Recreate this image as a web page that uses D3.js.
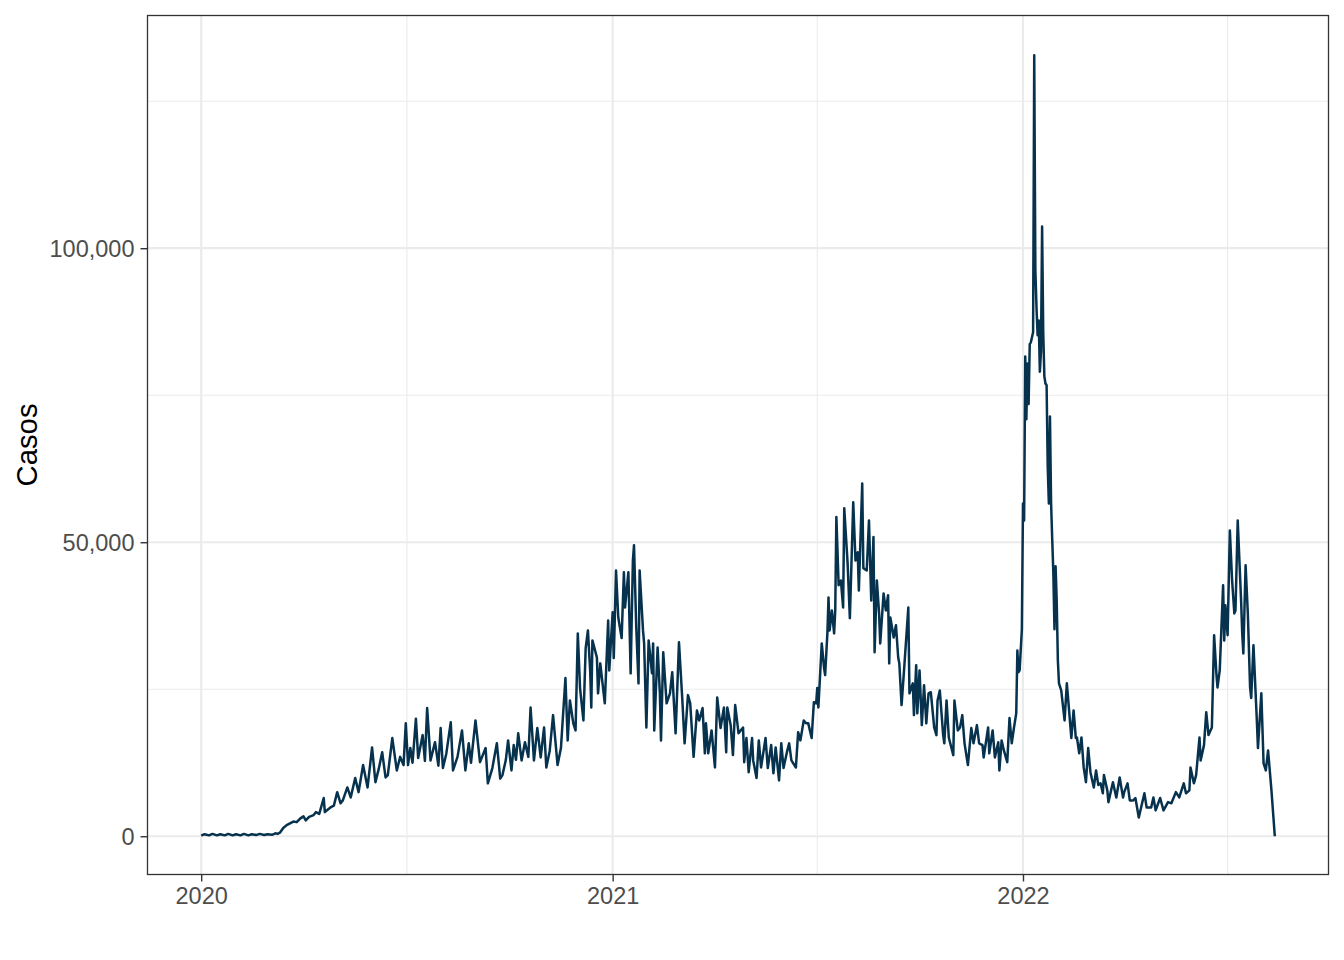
<!DOCTYPE html>
<html>
<head>
<meta charset="utf-8">
<script src="https://cdn.jsdelivr.net/npm/d3@7"></script>
<style>
  html, body { margin: 0; padding: 0; background: #ffffff; }
  svg { display: block; }
</style>
</head>
<body>
<svg id="chart" width="1344" height="960"></svg>
<script>
// ---------------- DATA ----------------
const startDate = "2020-01-01";
// [days since startDate, daily cases]
const dailyCases = [
[0,100],[3,350],[7,150],[10,400],[14,150],[17,350],[21,150],[24,400],[28,150],[31,350],[35,150],[38,400],[42,150],[45,350],[49,200],[52,400],[56,200],[59,350],[63,250],[66,500],[68,400],[70,600],[73,1400],[76,1900],[79,2200],[82,2500],[85,2400],[88,3000],[91,3400],[93,2700],[96,3300],[100,3600],[102,4100],[105,3800],[109,6500],[110,4100],[113,4600],[115,4900],[118,5200],[121,7500],[124,5600],[126,6100],[130,8300],[133,6600],[137,9900],[140,7500],[144,12100],[148,8300],[152,15100],[155,9200],[158,11500],[161,14300],[164,10000],[166,10400],[170,16700],[174,11200],[177,13500],[180,12100],[182,19200],[184,12100],[186,15000],[188,12500],[191,20000],[193,13300],[197,17200],[199,12800],[201,21800],[204,12900],[208,16000],[211,12000],[213,18400],[215,11600],[218,14000],[222,19400],[224,11200],[228,13500],[232,18000],[235,11200],[238,15800],[240,12500],[244,19700],[248,12600],[253,15000],[255,9000],[259,11600],[263,15800],[266,9800],[268,10400],[271,13000],[273,16300],[276,11200],[278,15500],[280,13000],[282,17500],[285,12900],[288,16000],[291,13500],[293,21900],[296,12900],[299,18400],[302,13400],[305,18500],[307,11700],[310,14500],[313,20600],[317,12100],[320,15000],[321,18000],[324,26900],[326,16300],[328,23100],[331,19200],[333,18000],[335,34500],[337,25200],[340,19700],[342,32000],[344,35000],[346,28200],[347,21900],[348,33300],[352,30400],[353,24300],[355,29400],[357,26000],[359,22600],[362,36700],[363,28200],[366,38100],[367,30300],[369,45200],[371,37200],[374,33700],[376,44900],[377,38900],[380,44900],[382,27700],[384,46900],[385,49500],[387,35500],[389,26000],[390,45200],[393,35000],[394,32800],[396,18500],[398,33300],[401,27700],[402,32800],[403,18000],[406,32100],[408,24300],[409,16300],[411,31300],[414,22600],[417,24300],[419,27900],[422,17500],[425,33000],[428,23100],[430,15800],[433,24000],[435,22600],[438,13500],[441,21400],[443,19700],[446,21800],[448,14100],[449,19200],[451,14100],[454,18000],[457,11700],[459,23600],[462,18400],[465,21900],[467,14300],[468,21900],[471,18900],[473,13800],[475,22300],[478,17500],[482,18500],[483,12600],[485,16700],[487,10900],[490,16700],[491,12900],[494,9900],[496,16300],[498,11700],[502,16700],[504,11600],[507,15500],[509,10700],[511,15100],[514,9500],[516,15800],[518,11600],[521,14300],[523,15800],[525,12900],[529,11700],[531,17700],[533,16300],[536,19700],[538,19200],[540,19200],[543,16700],[545,22800],[547,22600],[548,25200],[549,21900],[552,32800],[554,28700],[555,27400],[557,34500],[558,40600],[559,35000],[561,38400],[563,34500],[564,38400],[565,54300],[567,42700],[569,43500],[571,38900],[572,55800],[575,46400],[577,37100],[580,56800],[582,46900],[584,48300],[585,41800],[588,60000],[589,45600],[592,45200],[594,53700],[596,40100],[598,50900],[599,31300],[601,43500],[603,37900],[604,32800],[607,41300],[609,38400],[611,41000],[612,29400],[613,37200],[616,33800],[618,35900],[620,30400],[621,29400],[623,22300],[625,27700],[629,38900],[630,24300],[633,26000],[634,20600],[636,29100],[637,20900],[639,28200],[641,18900],[643,25700],[645,19200],[646,21900],[647,24300],[649,24500],[652,18500],[654,17200],[655,23100],[657,24800],[660,17200],[661,15800],[663,23100],[665,16800],[669,13800],[670,23100],[673,18000],[675,18500],[677,20600],[679,15800],[682,12100],[685,18400],[687,15800],[690,18900],[692,15800],[695,15500],[696,13400],[700,18500],[701,14100],[704,18000],[706,13400],[709,16000],[710,11200],[712,16300],[714,14600],[717,12600],[719,20100],[721,15800],[723,18500],[725,20900],[726,31600],[727,27900],[728,28200],[730,35200],[731,56600],[732,53700],[733,81600],[734,70900],[735,80400],[736,73500],[737,83700],[738,84000],[740,85700],[741,132800],[742,96300],[743,90000],[744,85200],[745,87700],[746,79000],[747,82500],[748,103700],[749,85700],[750,78200],[751,77000],[752,76700],[753,62800],[754,56600],[755,71400],[756,56600],[757,50500],[758,44700],[759,35200],[760,45900],[761,40000],[762,30000],[763,26000],[765,24800],[768,19700],[770,26000],[772,21400],[774,16700],[776,21400],[778,16700],[779,16800],[781,14100],[783,16800],[785,11700],[787,9200],[789,15000],[791,10900],[794,8300],[796,11200],[798,8700],[800,9000],[802,7300],[803,10400],[806,7800],[807,5800],[811,9200],[814,6600],[817,10000],[820,6600],[821,7500],[824,9000],[826,6100],[829,6100],[831,6500],[834,3200],[839,7300],[841,4900],[845,4900],[847,6600],[849,4400],[853,6500],[856,4400],[860,5800],[863,5600],[867,7500],[870,6600],[874,9000],[876,7300],[879,7800],[880,11700],[883,9000],[885,10400],[888,16800],[889,12900],[892,15500],[894,21100],[896,17200],[899,18500],[901,34200],[903,27700],[904,25300],[906,28200],[909,42700],[910,33300],[911,39300],[913,34200],[915,52000],[917,43500],[919,37900],[920,38400],[922,53700],[925,40100],[926,34500],[927,31100],[929,46100],[931,37900],[933,25300],[934,23500],[936,32500],[939,19700],[940,15000],[943,24300],[945,12400],[947,11200],[949,14600],[952,7800],[955,0]
];
const yMajorTicks = [0, 50000, 100000];
const yMinorTicks = [25000, 75000, 125000];
const xMajorTicks = ["2020-01-01", "2021-01-01", "2022-01-01"];
const xMinorTicks = ["2020-07-02", "2021-07-02", "2022-07-02"];
const yTitle = "Casos";

// ---------------- CHART ----------------
const svg = d3.select("#chart");
const panel = { left: 147.5, right: 1328.5, top: 15.5, bottom: 874.5 };
const parse = d3.utcParse("%Y-%m-%d");
const t0 = parse(startDate);
const data = dailyCases.map(([d, v]) => ({ date: d3.utcDay.offset(t0, d), value: v }));

const xExt = d3.extent(data, d => d.date);
const xSpan = xExt[1] - xExt[0];
const x = d3.scaleUtc()
  .domain([new Date(+xExt[0] - 0.05 * xSpan), new Date(+xExt[1] + 0.05 * xSpan)])
  .range([panel.left, panel.right]);

const yExt = d3.extent(data, d => d.value);
const ySpan = yExt[1] - yExt[0];
const y = d3.scaleLinear()
  .domain([yExt[0] - 0.05 * ySpan, yExt[1] + 0.05 * ySpan])
  .range([panel.bottom + 0.8, panel.top + 0.8]);

const gridColor = "#EBEBEB";
const g = svg.append("g");

// minor grid
g.selectAll(".ymin").data(yMinorTicks).join("line")
  .attr("x1", panel.left).attr("x2", panel.right)
  .attr("y1", d => y(d)).attr("y2", d => y(d))
  .attr("stroke", gridColor).attr("stroke-width", 1.1);
g.selectAll(".xmin").data(xMinorTicks.map(parse)).join("line")
  .attr("x1", d => x(d)).attr("x2", d => x(d))
  .attr("y1", panel.top).attr("y2", panel.bottom)
  .attr("stroke", gridColor).attr("stroke-width", 1.1);
// major grid
g.selectAll(".ymaj").data(yMajorTicks).join("line")
  .attr("x1", panel.left).attr("x2", panel.right)
  .attr("y1", d => y(d)).attr("y2", d => y(d))
  .attr("stroke", gridColor).attr("stroke-width", 2.2);
g.selectAll(".xmaj").data(xMajorTicks.map(parse)).join("line")
  .attr("x1", d => x(d)).attr("x2", d => x(d))
  .attr("y1", panel.top).attr("y2", panel.bottom)
  .attr("stroke", gridColor).attr("stroke-width", 2.2);

// series line
const line = d3.line().x(d => x(d.date)).y(d => y(d.value));
svg.append("path").datum(data)
  .attr("d", line)
  .attr("fill", "none")
  .attr("stroke", "#06324E")
  .attr("stroke-width", 2.5)
  .attr("stroke-linejoin", "round")
  .attr("stroke-linecap", "butt");

// panel border
svg.append("rect")
  .attr("x", panel.left).attr("y", panel.top)
  .attr("width", panel.right - panel.left).attr("height", panel.bottom - panel.top)
  .attr("fill", "none").attr("stroke", "#333333").attr("stroke-width", 1.3);

// axes
const fmt = d3.format(",");
const yAxis = d3.axisLeft(y).tickValues(yMajorTicks).tickFormat(fmt).tickSizeOuter(0).tickSize(7).tickPadding(6);
const yg = svg.append("g").attr("transform", `translate(${panel.left},0)`).call(yAxis);
yg.select(".domain").remove();
yg.selectAll(".tick line").attr("stroke", "#333333").attr("stroke-width", 1.4);
yg.selectAll(".tick text")
  .attr("fill", "#4D4D4D")
  .style("font-family", "'Liberation Sans', Arial, Helvetica, sans-serif")
  .style("font-size", "23.5px")
  .attr("dy", "0.36em");

const xAxis = d3.axisBottom(x).tickValues(xMajorTicks.map(parse)).tickFormat(d3.utcFormat("%Y")).tickSizeOuter(0).tickSize(7).tickPadding(6);
const xg = svg.append("g").attr("transform", `translate(0,${panel.bottom})`).call(xAxis);
xg.select(".domain").remove();
xg.selectAll(".tick line").attr("stroke", "#333333").attr("stroke-width", 1.4);
xg.selectAll(".tick text")
  .attr("fill", "#4D4D4D")
  .style("font-family", "'Liberation Sans', Arial, Helvetica, sans-serif")
  .style("font-size", "23.5px")
  .attr("dy", "0.71em");

// y title
svg.append("text")
  .attr("transform", `translate(37,${(panel.top + panel.bottom) / 2}) rotate(-90)`)
  .attr("text-anchor", "middle")
  .attr("fill", "#000000")
  .style("font-family", "'Liberation Sans', Arial, Helvetica, sans-serif")
  .style("font-size", "29.3px")
  .text(yTitle);
</script>
</body>
</html>
